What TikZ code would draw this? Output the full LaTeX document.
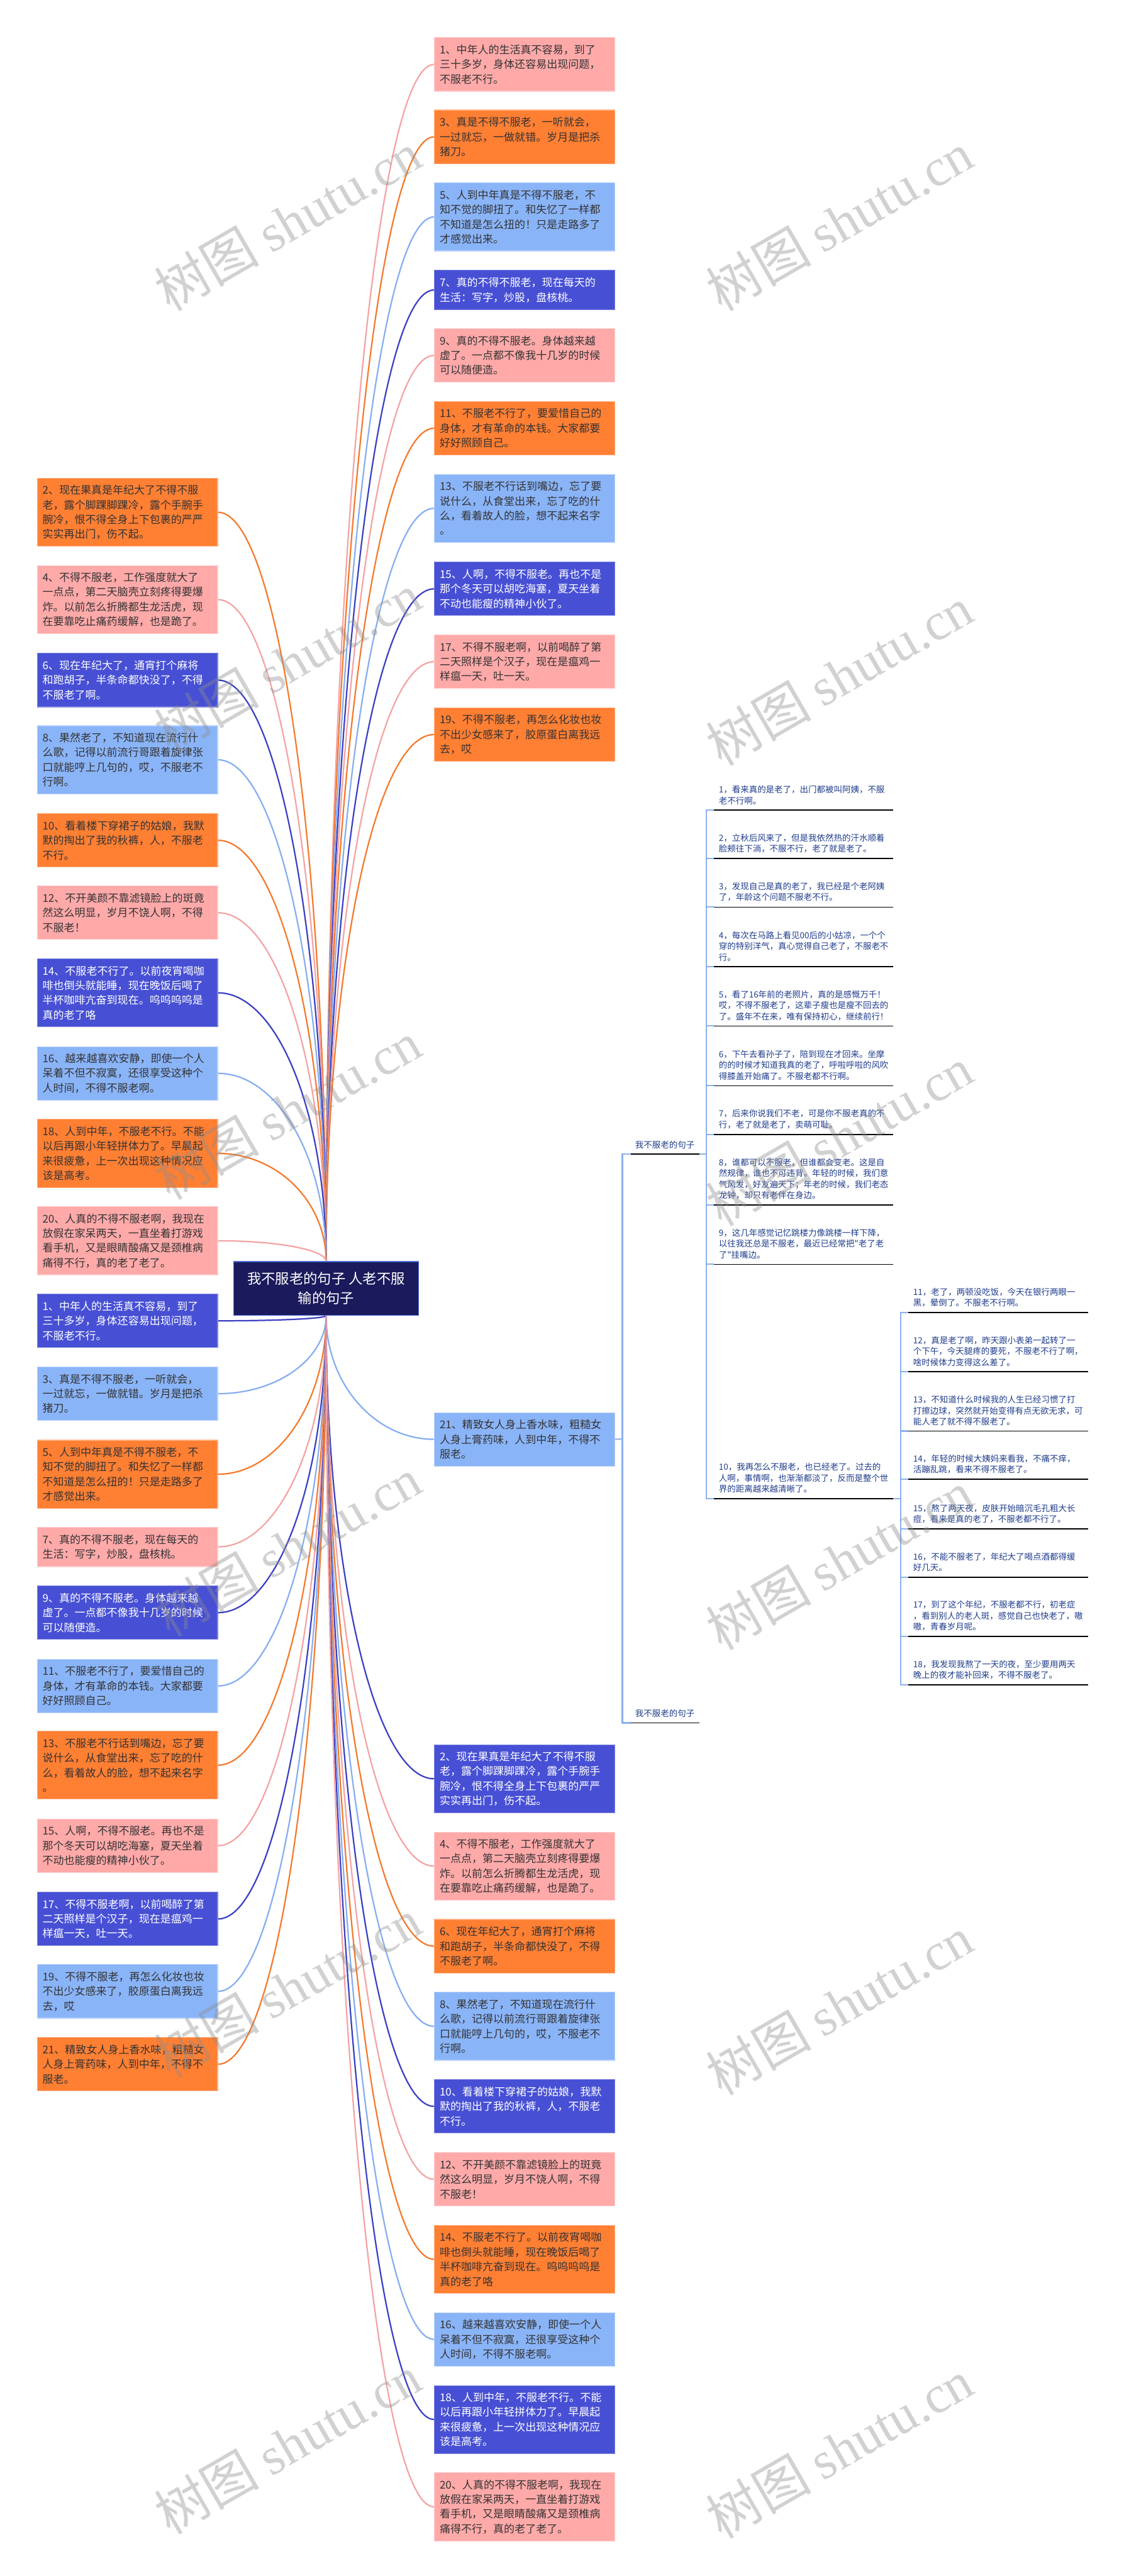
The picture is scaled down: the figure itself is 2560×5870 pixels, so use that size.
\documentclass[tikz,border=0pt]{standalone}
\usepackage{fontspec}
\newfontfamily\cjk{Noto Sans CJK SC}
\newfontfamily\wmserif{Liberation Serif}
\usetikzlibrary{calc,backgrounds}
\definecolor{cOr}{HTML}{FF7F33}
\definecolor{cPk}{HTML}{FFA9A9}
\definecolor{cLb}{HTML}{8AB4F8}
\definecolor{cIn}{HTML}{4750D4}
\definecolor{cNavy}{HTML}{1B1A5C}
\definecolor{cNavyB}{HTML}{4A6FD8}
\definecolor{txtD}{HTML}{333333}
\definecolor{txtB}{HTML}{1F3C8C}
\definecolor{brc}{HTML}{8AB0EE}
\definecolor{lnOr}{HTML}{F47A2E}
\definecolor{lnPk}{HTML}{F5A3A3}
\definecolor{lnLb}{HTML}{86AEF0}
\definecolor{lnIn}{HTML}{3B40C4}
\newcommand\myboxfont{\cjk\fontsize{6.1pt}{8.375pt}\selectfont}
\newcommand\myitemfont{\cjk\fontsize{4.83pt}{6.25pt}\selectfont}
\newcommand\mycenterfont{\cjk\fontsize{8pt}{11.15pt}\selectfont}
\newcommand\mywmfont{\cjk\fontsize{30pt}{36pt}\selectfont}
\newcommand\sayA{1、中年人的生活真不容易，到了\\三十多岁，身体还容易出现问题，\\不服老不行。}
\newcommand\sayB{2、现在果真是年纪大了不得不服\\老，露个脚踝脚踝冷，露个手腕手\\腕冷，恨不得全身上下包裹的严严\\实实再出门，伤不起。}
\newcommand\sayC{3、真是不得不服老，一听就会，\\一过就忘，一做就错。岁月是把杀\\猪刀。}
\newcommand\sayD{4、不得不服老，工作强度就大了\\一点点，第二天脑壳立刻疼得要爆\\炸。以前怎么折腾都生龙活虎，现\\在要靠吃止痛药缓解，也是跪了。}
\newcommand\sayE{5、人到中年真是不得不服老，不\\知不觉的脚扭了。和失忆了一样都\\不知道是怎么扭的！只是走路多了\\才感觉出来。}
\newcommand\sayF{6、现在年纪大了，通宵打个麻将\\和跑胡子，半条命都快没了，不得\\不服老了啊。}
\newcommand\sayG{7、真的不得不服老，现在每天的\\生活：写字，炒股，盘核桃。}
\newcommand\sayH{8、果然老了，不知道现在流行什\\么歌，记得以前流行哥跟着旋律张\\口就能哼上几句的，哎，不服老不\\行啊。}
\newcommand\sayI{9、真的不得不服老。身体越来越\\虚了。一点都不像我十几岁的时候\\可以随便造。}
\newcommand\sayJ{10、看着楼下穿裙子的姑娘，我默\\默的掏出了我的秋裤，人，不服老\\不行。}
\newcommand\sayK{11、不服老不行了，要爱惜自己的\\身体，才有革命的本钱。大家都要\\好好照顾自己。}
\newcommand\sayL{12、不开美颜不靠滤镜脸上的斑竟\\然这么明显，岁月不饶人啊，不得\\不服老！}
\newcommand\sayM{13、不服老不行话到嘴边，忘了要\\说什么，从食堂出来，忘了吃的什\\么，看着故人的脸，想不起来名字\\。}
\newcommand\sayN{14、不服老不行了。以前夜宵喝咖\\啡也倒头就能睡，现在晚饭后喝了\\半杯咖啡亢奋到现在。呜呜呜呜是\\真的老了咯}
\newcommand\sayO{15、人啊，不得不服老。再也不是\\那个冬天可以胡吃海塞，夏天坐着\\不动也能瘦的精神小伙了。}
\newcommand\sayP{16、越来越喜欢安静，即使一个人\\呆着不但不寂寞，还很享受这种个\\人时间，不得不服老啊。}
\newcommand\sayQ{17、不得不服老啊，以前喝醉了第\\二天照样是个汉子，现在是瘟鸡一\\样瘟一天，吐一天。}
\newcommand\sayR{18、人到中年，不服老不行。不能\\以后再跟小年轻拼体力了。早晨起\\来很疲惫，上一次出现这种情况应\\该是高考。}
\newcommand\sayS{19、不得不服老，再怎么化妆也妆\\不出少女感来了，胶原蛋白离我远\\去，哎}
\newcommand\sayT{20、人真的不得不服老啊，我现在\\放假在家呆两天，一直坐着打游戏\\看手机，又是眼睛酸痛又是颈椎病\\痛得不行，真的老了老了。}
\newcommand\sayU{21、精致女人身上香水味，粗糙女\\人身上膏药味，人到中年，不得不\\服老。}
\begin{document}
\begin{tikzpicture}[x=0.25pt,y=-0.25pt,
  bx/.style={anchor=north west,text width=96.75pt,inner xsep=3pt,inner ysep=1pt,align=left,font=\myboxfont,line width=0.4pt},
  lnA/.style={minimum height=22.5pt},
  lnB/.style={minimum height=30.5pt},
  lnC/.style={minimum height=38.75pt},
  fOr/.style={fill=cOr,draw=cOr!60!white,text=txtD},
  fPk/.style={fill=cPk,draw=cPk!60!white,text=txtD},
  fLb/.style={fill=cLb,draw=cLb!60!white,text=txtD},
  fIn/.style={fill=cIn,draw=cIn!70!white,text=white},
  mmcurve/.style={to path={.. controls ($(\tikztostart)!0.55!(\tikztostart|-\tikztotarget)$) and ($(\tikztotarget)!0.55!(\tikztostart|-\tikztotarget)$) .. (\tikztotarget)}},
  cv/.style={line width=0.8pt,mmcurve},
  itm/.style={anchor=south west,text width=96.75pt,inner xsep=2.5pt,inner ysep=3pt,align=left,text=txtB,font=\myitemfont},
  lab/.style={anchor=south west,inner xsep=2.4pt,inner ysep=3pt,text=txtB,font=\myitemfont},
  ulin/.style={line width=0.6pt,black},
  brl/.style={line width=0.75pt,brc},
  wmk/.style={rotate=30,text=black!45,opacity=0.4,text opacity=0.4,font=\mywmfont,inner sep=0pt}
]
\useasboundingbox (0,0) rectangle (2560,5870);
% central node
\node[anchor=north west,minimum width=105.5pt,minimum height=30.5pt,inner sep=1pt,fill=cNavy,draw=cNavyB,line width=0.5pt,text=white,align=center,font=\mycenterfont] (c) at (531,2874) {我不服老的句子 人老不服\\输的句子};
% top right column
\node[bx,fPk,lnB] (TR1) at (989,85) {\sayA};
\node[bx,fOr,lnB] (TR3) at (989,250) {\sayC};
\node[bx,fLb,lnC] (TR5) at (989,416) {\sayE};
\node[bx,fIn,lnA] (TR7) at (989,615) {\sayG};
\node[bx,fPk,lnB] (TR9) at (989,748) {\sayI};
\node[bx,fOr,lnB] (TR11) at (989,914) {\sayK};
\node[bx,fLb,lnC] (TR13) at (989,1080) {\sayM};
\node[bx,fIn,lnB] (TR15) at (989,1280) {\sayO};
\node[bx,fPk,lnB] (TR17) at (989,1446) {\sayQ};
\node[bx,fOr,lnB] (TR19) at (989,1612) {\sayS};
% left column
\node[bx,fOr,lnC] (L2) at (84,1089) {\sayB};
\node[bx,fPk,lnC] (L4) at (84,1288) {\sayD};
\node[bx,fIn,lnB] (L6) at (84,1488) {\sayF};
\node[bx,fLb,lnC] (L8) at (84,1653) {\sayH};
\node[bx,fOr,lnB] (L10) at (84,1853) {\sayJ};
\node[bx,fPk,lnB] (L12) at (84,2018) {\sayL};
\node[bx,fIn,lnC] (L14) at (84,2184) {\sayN};
\node[bx,fLb,lnB] (L16) at (84,2384) {\sayP};
\node[bx,fOr,lnC] (L18) at (84,2550) {\sayR};
\node[bx,fPk,lnC] (L20) at (84,2749) {\sayT};
\node[bx,fIn,lnB] (L1) at (84,2948) {\sayA};
\node[bx,fLb,lnB] (L3) at (84,3114) {\sayC};
\node[bx,fOr,lnC] (L5) at (84,3281) {\sayE};
\node[bx,fPk,lnA] (L7) at (84,3479) {\sayG};
\node[bx,fIn,lnB] (L9) at (84,3613) {\sayI};
\node[bx,fLb,lnB] (L11) at (84,3780) {\sayK};
\node[bx,fOr,lnC] (L13) at (84,3944) {\sayM};
\node[bx,fPk,lnB] (L15) at (84,4144) {\sayO};
\node[bx,fIn,lnB] (L17) at (84,4311) {\sayQ};
\node[bx,fLb,lnB] (L19) at (84,4476) {\sayS};
\node[bx,fOr,lnB] (L21) at (84,4642) {\sayU};
% right lower
\node[bx,fLb,lnB] (B21) at (989,3218) {\sayU};
\node[bx,fIn,lnC] (BR2) at (989,3975) {\sayB};
\node[bx,fPk,lnC] (BR4) at (989,4174) {\sayD};
\node[bx,fOr,lnB] (BR6) at (989,4373) {\sayF};
\node[bx,fLb,lnC] (BR8) at (989,4539) {\sayH};
\node[bx,fIn,lnB] (BR10) at (989,4738) {\sayJ};
\node[bx,fPk,lnB] (BR12) at (989,4904) {\sayL};
\node[bx,fOr,lnC] (BR14) at (989,5070) {\sayN};
\node[bx,fLb,lnB] (BR16) at (989,5269) {\sayP};
\node[bx,fIn,lnC] (BR18) at (989,5435) {\sayR};
\node[bx,fPk,lnC] (BR20) at (989,5634) {\sayT};
% labels
\node[lab] (lab1) at (1437,2630) {我不服老的句子};
\node[lab] (lab2) at (1437,3926) {我不服老的句子};
% small items
\node[itm] (i1) at (1627,1846) {1，看来真的是老了，出门都被叫阿姨，不服\\老不行啊。};
\node[itm] (i2) at (1627,1956) {2，立秋后风来了，但是我依然热的汗水顺着\\脸颊往下淌，不服不行，老了就是老了。};
\node[itm] (i3) at (1627,2067) {3，发现自己是真的老了，我已经是个老阿姨\\了，年龄这个问题不服老不行。};
\node[itm] (i4) at (1627,2203) {4，每次在马路上看见00后的小姑凉，一个个\\穿的特别洋气，真心觉得自己老了，不服老不\\行。};
\node[itm] (i5) at (1627,2338) {5，看了16年前的老照片，真的是感慨万千！\\哎，不得不服老了，这辈子瘦也是瘦不回去的\\了。盛年不在来，唯有保持初心，继续前行！};
\node[itm] (i6) at (1627,2474) {6，下午去看孙子了，陪到现在才回来。坐摩\\的的时候才知道我真的老了，呼啦呼啦的风吹\\得膝盖开始痛了。不服老都不行啊。};
\node[itm] (i7) at (1627,2585) {7，后来你说我们不老，可是你不服老真的不\\行，老了就是老了，卖萌可耻。};
\node[itm] (i8) at (1627,2746) {8，谁都可以不服老，但谁都会变老。这是自\\然规律，谁也不可违背。年轻的时候，我们意\\气风发，好友遍天下；年老的时候，我们老态\\龙钟，却只有老伴在身边。};
\node[itm] (i9) at (1627,2881) {9，这几年感觉记忆跳楼力像跳楼一样下降，\\以往我还总是不服老，最近已经常把"老了老\\了"挂嘴边。};
\node[itm] (i10) at (1627,3415) {10，我再怎么不服老，也已经老了。过去的\\人啊，事情啊，也渐渐都淡了，反而是整个世\\界的距离越来越清晰了。};
\node[itm] (i11) at (2070,2991) {11，老了，两顿没吃饭，今天在银行两眼一\\黑，晕倒了。不服老不行啊。};
\node[itm] (i12) at (2070,3126) {12，真是老了啊，昨天跟小表弟一起转了一\\个下午，今天腿疼的要死，不服老不行了啊，\\啥时候体力变得这么差了。};
\node[itm] (i13) at (2070,3261) {13，不知道什么时候我的人生已经习惯了打\\打擦边球，突然就开始变得有点无欲无求，可\\能人老了就不得不服老了。};
\node[itm] (i14) at (2070,3371) {14，年轻的时候大姨妈来看我，不痛不痒，\\活蹦乱跳，看来不得不服老了。};
\node[itm] (i15) at (2070,3484) {15，熬了两天夜，皮肤开始暗沉毛孔粗大长\\痘，看来是真的老了，不服老都不行了。};
\node[itm] (i16) at (2070,3594) {16，不能不服老了，年纪大了喝点酒都得缓\\好几天。};
\node[itm] (i17) at (2070,3729) {17，到了这个年纪，不服老都不行，初老症\\，看到别人的老人斑，感觉自己也快老了，嗷\\嗷，青春岁月呢。};
\node[itm] (i18) at (2070,3839) {18，我发现我熬了一天的夜，至少要用两天\\晚上的夜才能补回来，不得不服老了。};
\coordinate (j1) at (1418,3279);
\coordinate (j2) at (1610,2630);
\coordinate (j3) at (2052,3415);
\begin{pgfonlayer}{background}
\fill[white] (0,0) rectangle (2560,5870);
\foreach \n/\col in {TR1/lnPk,TR3/lnOr,TR5/lnLb,TR7/lnIn,TR9/lnPk,TR11/lnOr,TR13/lnLb,TR15/lnIn,TR17/lnPk,TR19/lnOr}
  \draw[cv,\col] (c.north) to (\n.west);
\foreach \n/\col in {L2/lnOr,L4/lnPk,L6/lnIn,L8/lnLb,L10/lnOr,L12/lnPk,L14/lnIn,L16/lnLb,L18/lnOr,L20/lnPk}
  \draw[cv,\col] (c.north) to (\n.east);
\foreach \n/\col in {L1/lnIn,L3/lnLb,L5/lnOr,L7/lnPk,L9/lnIn,L11/lnLb,L13/lnOr,L15/lnPk,L17/lnIn,L19/lnLb,L21/lnOr}
  \draw[cv,\col] (c.south) to (\n.east);
\foreach \n/\col in {B21/lnLb,BR2/lnIn,BR4/lnPk,BR6/lnOr,BR8/lnLb,BR10/lnIn,BR12/lnPk,BR14/lnOr,BR16/lnLb,BR18/lnIn,BR20/lnPk}
  \draw[cv,\col] (c.south) to (\n.west);
\draw[brl] (B21.east) -- (j1);
\draw[brl] (lab1.south west) -| (j1) |- (lab2.south west);
\draw[brl] (lab1.south east) -- (j2);
\foreach \k in {1,...,10} \draw[brl] (j2) |- (i\k.south west);
\draw[brl] (i10.south east) -- (j3);
\foreach \k in {11,...,18} \draw[brl] (j3) |- (i\k.south west);
\end{pgfonlayer}
\foreach \k in {1,...,18} \draw[ulin] (i\k.south west) -- (i\k.south east);
\draw[ulin] (lab1.south west) -- (lab1.south east);
\draw[ulin] (lab2.south west) -- (lab2.south east);
% watermarks
\node[wmk] (w1) at (655,505) {树图 {\wmserif shutu.cn}};
\node[wmk] (w2) at (655,1510) {树图 {\wmserif shutu.cn}};
\node[wmk] (w3) at (655,2530) {树图 {\wmserif shutu.cn}};
\node[wmk] (w4) at (655,3525) {树图 {\wmserif shutu.cn}};
\node[wmk] (w5) at (655,4530) {树图 {\wmserif shutu.cn}};
\node[wmk] (w6) at (655,5570) {树图 {\wmserif shutu.cn}};
\node[wmk] (w7) at (1912,505) {树图 {\wmserif shutu.cn}};
\node[wmk] (w8) at (1912,1540) {树图 {\wmserif shutu.cn}};
\node[wmk] (w9) at (1912,2590) {树图 {\wmserif shutu.cn}};
\node[wmk] (w10) at (1912,3555) {树图 {\wmserif shutu.cn}};
\node[wmk] (w11) at (1912,4570) {树图 {\wmserif shutu.cn}};
\node[wmk] (w12) at (1912,5580) {树图 {\wmserif shutu.cn}};
\end{tikzpicture}
\end{document}
